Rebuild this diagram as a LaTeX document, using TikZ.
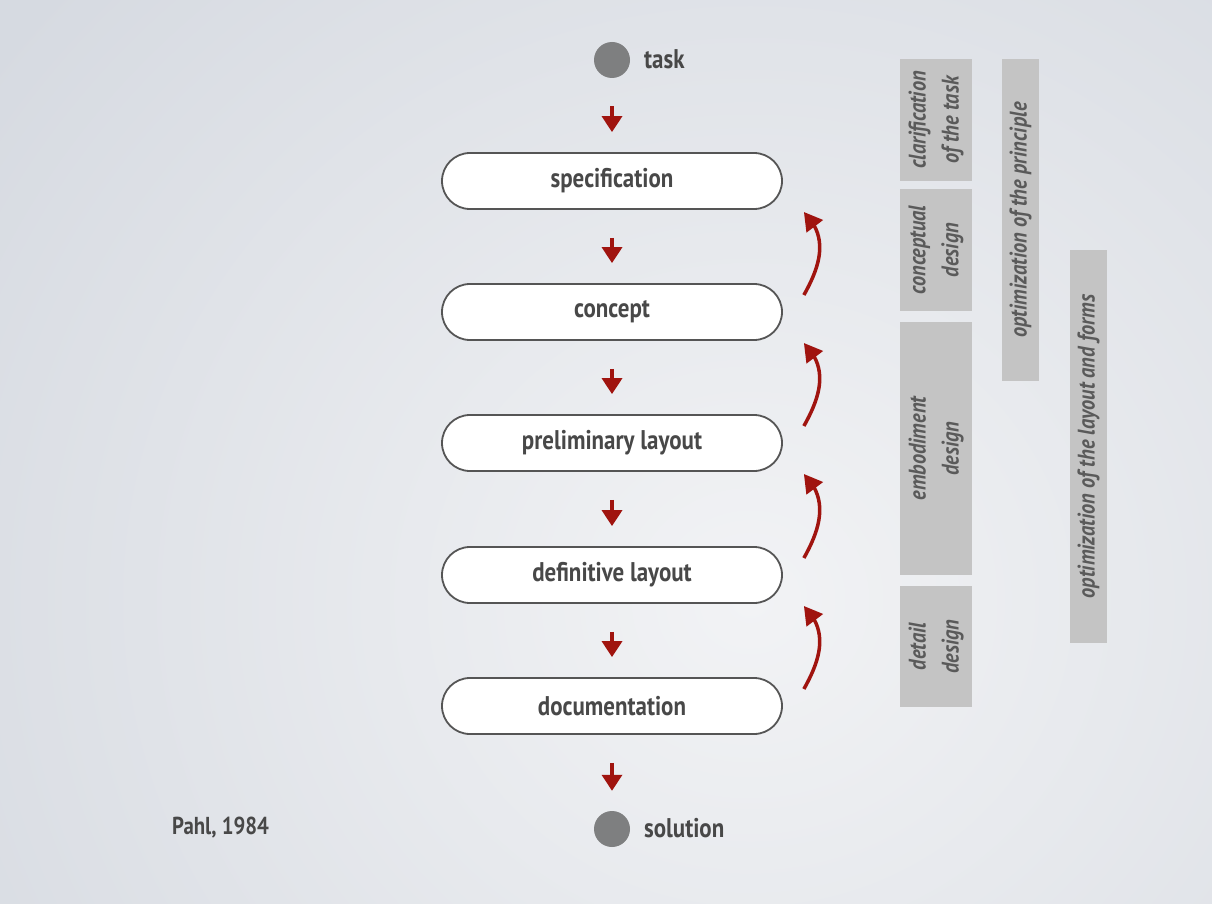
\documentclass[tikz,border=0pt]{standalone}
\usepackage{fontspec}
\setmainfont{PT Sans}[FakeStretch=0.85]
\usetikzlibrary{arrows.meta,bending}
\definecolor{bgin}{HTML}{F2F3F5}
\definecolor{bgout}{HTML}{D6DAE1}
\definecolor{txt}{HTML}{484848}
\definecolor{bartxt}{HTML}{5A5A5A}
\definecolor{barfill}{HTML}{C4C4C4}
\definecolor{arr}{HTML}{A0140F}
\definecolor{dot}{HTML}{7E7F80}
\definecolor{edge}{HTML}{555555}
\begin{document}
\begin{tikzpicture}[x=1pt,y=-1pt,
  stepbox/.style={draw=edge, line width=1.8pt, fill=white, rounded corners=28pt,
    minimum width=340pt, minimum height=56pt, inner sep=0pt,
    font=\fontsize{27}{30}\selectfont\bfseries, text=txt},
  dotnode/.style={circle, fill=dot, minimum size=36pt, inner sep=0pt},
  dotlabel/.style={font=\fontsize{27}{30}\selectfont\bfseries, text=txt, anchor=west, inner sep=0pt},
  credit/.style={font=\fontsize{24.5}{28}\selectfont\bfseries, text=txt, anchor=west, inner sep=0pt},
  bar/.style={fill=barfill, rotate=90, inner sep=0pt, align=center,
    font=\fontsize{24}{33}\selectfont\bfseries\itshape, text=bartxt},
  sarrow/.style={draw=arr, line width=3.5pt, -{Triangle[length=16pt,width=20pt]},
    shorten <=28pt, shorten >=20pt},
  barrow/.style={draw=arr, line width=3.5pt, -{Triangle[length=18pt,width=20pt,flex]}}
]
\useasboundingbox (0,0) rectangle (1212,904);
\begin{scope}
\clip (0,0) rectangle (1212,904);
\shade[inner color=bgin, outer color=bgout] (-200,-300) rectangle (1700,1500);
\end{scope}

\node[dotnode] (task) at (612,60) {};
\node[dotlabel] (tasklbl) at (644,59) {task};

\node[stepbox] (spec) at (612,181) {specification};
\node[stepbox] (concept) at (612,312) {concept};
\node[stepbox] (prelim) at (612,443) {preliminary layout};
\node[stepbox] (defin) at (612,575) {definitive layout};
\node[stepbox] (doc) at (612,706) {documentation};

\node[dotnode] (sol) at (612,829) {};
\node[dotlabel] (sollbl) at (644,828) {solution};

\node[credit] (pahl) at (172,828) {Pahl, 1984};

\draw[sarrow] (task) -- (spec);
\draw[sarrow] (spec) -- (concept);
\draw[sarrow] (concept) -- (prelim);
\draw[sarrow] (prelim) -- (defin);
\draw[sarrow] (defin) -- (doc);
\draw[sarrow] (doc) -- (sol);

\draw[barrow] ([xshift=21pt,yshift=17pt]concept.east) .. controls +(18,-32) and +(24,24) .. ([xshift=21pt,yshift=-31pt]spec.east);
\draw[barrow] ([xshift=21pt,yshift=17pt]prelim.east) .. controls +(18,-32) and +(24,24) .. ([xshift=21pt,yshift=-31pt]concept.east);
\draw[barrow] ([xshift=21pt,yshift=17pt]defin.east) .. controls +(18,-32) and +(24,24) .. ([xshift=21pt,yshift=-31pt]prelim.east);
\draw[barrow] ([xshift=21pt,yshift=17pt]doc.east) .. controls +(18,-32) and +(24,24) .. ([xshift=21pt,yshift=-31pt]defin.east);

\node[bar, minimum width=122pt, minimum height=72pt] (clar) at (936,120) {clarification\\of the task};
\node[bar, minimum width=122pt, minimum height=72pt] (concd) at (936,250) {conceptual\\design};
\node[bar, minimum width=253pt, minimum height=72pt] (embd) at (936,448.5) {embodiment\\design};
\node[bar, minimum width=121pt, minimum height=72pt] (detd) at (936,646.5) {detail\\design};
\node[bar, minimum width=322pt, minimum height=37pt] (optp) at (1020.5,220) {optimization of the principle};
\node[bar, minimum width=393pt, minimum height=37pt] (optl) at (1088.5,446.5) {optimization of the layout and forms};
\end{tikzpicture}
\end{document}
